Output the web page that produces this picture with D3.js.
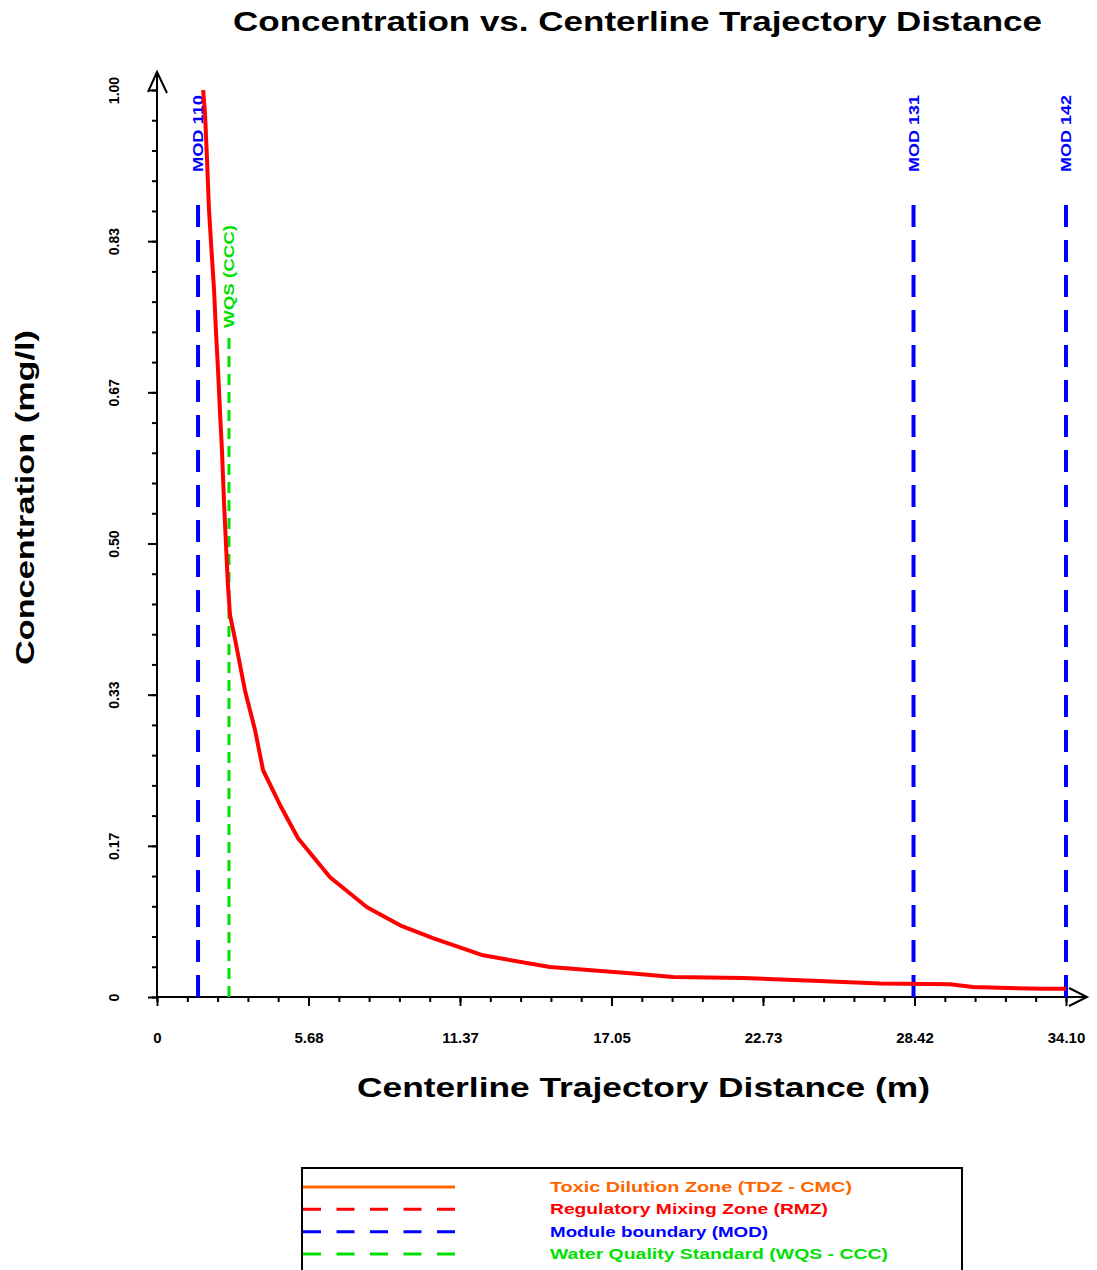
<!DOCTYPE html>
<html>
<head>
<meta charset="utf-8">
<script src="https://cdn.jsdelivr.net/npm/d3@7"></script>
<style>
  body { margin: 0; background: #fff; }
  text { font-family: "Liberation Sans", Arial, sans-serif; font-weight: bold; }
</style>
</head>
<body>
<script>
'use strict';

// concentration curve (distance m, concentration mg/l)
const distance = [1.73, 1.80, 1.88, 1.95, 2.06, 2.14, 2.21, 2.29, 2.36, 2.44, 2.51, 2.59, 2.66, 2.74,
  2.93, 3.30, 3.68, 3.98, 4.61, 5.29, 6.49, 7.88, 9.12, 10.35, 12.23, 14.74, 17.86, 19.36,
  21.98, 24.61, 27.12, 29.75, 30.61, 33.24, 34.10];
const concentration = [1.000, 0.975, 0.921, 0.868, 0.816, 0.780, 0.735, 0.691, 0.647, 0.601, 0.548, 0.498, 0.454, 0.421,
  0.394, 0.338, 0.294, 0.250, 0.212, 0.175, 0.132, 0.099, 0.079, 0.065, 0.046, 0.033, 0.026, 0.022,
  0.021, 0.018, 0.015, 0.014, 0.011, 0.009, 0.009];

// module boundaries and water quality standard
const modLabels = ["MOD 110", "MOD 131", "MOD 142"];
const modDistance = [1.54, 28.38, 34.10];
const wqsLabel = "WQS (CCC)";
const wqsDistance = [2.70];

// axis ticks
const xMax = 34.10;
const xTicks = d3.range(0, 7).map(i => i * xMax / 6);
const xMinorTicks = d3.range(0, 31).map(i => i * xMax / 30);
const yTicks = d3.range(0, 7).map(i => i / 6);
const yMinorTicks = d3.range(0, 31).map(i => i / 30);

// legend
const legendLabels = ["Toxic Dilution Zone (TDZ - CMC)", "Regulatory Mixing Zone (RMZ)",
  "Module boundary (MOD)", "Water Quality Standard (WQS - CCC)"];
const legendColors = ["#ff6600", "#ff0000", "#0000ff", "#00e000"];
const legendWidths = [302, 278, 218, 338];

const svg = d3.select("body").append("svg")
  .attr("width", 1097)
  .attr("height", 1270);

const x = d3.scaleLinear().domain([0, xMax]).range([157, 1066]);
const y = d3.scaleLinear().domain([0, 1]).range([997, 90]);

// title and axis labels
svg.append("text")
  .attr("x", 233).attr("y", 31)
  .attr("textLength", 809).attr("lengthAdjust", "spacingAndGlyphs")
  .style("font-size", "27px")
  .text("Concentration vs. Centerline Trajectory Distance");

svg.append("text")
  .attr("x", 357).attr("y", 1097)
  .attr("textLength", 573).attr("lengthAdjust", "spacingAndGlyphs")
  .style("font-size", "27px")
  .text("Centerline Trajectory Distance (m)");

svg.append("text")
  .attr("transform", "translate(34, 665) rotate(-90)")
  .attr("textLength", 335).attr("lengthAdjust", "spacingAndGlyphs")
  .style("font-size", "26px")
  .text("Concentration (mg/l)");

// minor ticks
svg.append("g")
  .attr("transform", "translate(0, 997)")
  .call(d3.axisBottom(x).tickValues(xMinorTicks).tickSize(5).tickFormat(""))
  .call(g => g.select(".domain").remove())
  .selectAll("line").attr("stroke-width", 2);

svg.append("g")
  .attr("transform", "translate(157, 0)")
  .call(d3.axisLeft(y).tickValues(yMinorTicks).tickSize(5).tickFormat(""))
  .call(g => g.select(".domain").remove())
  .selectAll("line").attr("stroke-width", 2);

// major ticks with labels
const fmt = d => d === 0 ? "0" : d.toFixed(2);

const xAxis = svg.append("g")
  .attr("transform", "translate(0, 997)")
  .call(d3.axisBottom(x).tickValues(xTicks).tickSize(9).tickPadding(26).tickFormat(fmt));
xAxis.select(".domain").remove();
xAxis.selectAll("line").attr("stroke-width", 2);
xAxis.selectAll("text")
  .attr("fill", "#000")
  .style("font-size", "15px")
  .style("font-family", "Liberation Sans, Arial, sans-serif");

const yAxis = svg.append("g")
  .attr("transform", "translate(157, 0)")
  .call(d3.axisLeft(y).tickValues(yTicks).tickSize(9).tickFormat(fmt));
yAxis.select(".domain").remove();
yAxis.selectAll("line").attr("stroke-width", 2);
yAxis.selectAll("text")
  .attr("x", 0).attr("y", 0).attr("dy", "0.35em")
  .attr("text-anchor", "middle")
  .attr("transform", "translate(-43, 0) rotate(-90)")
  .attr("fill", "#000")
  .style("font-size", "14px")
  .style("font-family", "Liberation Sans, Arial, sans-serif");

// axis lines with open arrow heads
svg.append("path")
  .attr("d", "M157,997 L157,72 M148,92 L157,72 L167,93")
  .attr("fill", "none").attr("stroke", "#000").attr("stroke-width", 2);
svg.append("path")
  .attr("d", "M157,997 L1087,997 M1069,988 L1087,997 L1069,1006")
  .attr("fill", "none").attr("stroke", "#000").attr("stroke-width", 2);

// module boundary lines
modDistance.forEach((d, i) => {
  svg.append("line")
    .attr("x1", x(d)).attr("x2", x(d))
    .attr("y1", 997).attr("y2", 198)
    .attr("stroke", "#0000ff").attr("stroke-width", 4)
    .attr("stroke-dasharray", "22,13");
  svg.append("text")
    .attr("transform", "translate(" + (x(d) + 5) + ", 172) rotate(-90)")
    .attr("textLength", 77).attr("lengthAdjust", "spacingAndGlyphs")
    .attr("fill", "#0000ff")
    .style("font-size", "14px")
    .text(modLabels[i]);
});

// water quality standard line
wqsDistance.forEach(d => {
  svg.append("line")
    .attr("x1", x(d)).attr("x2", x(d))
    .attr("y1", 997).attr("y2", 335)
    .attr("stroke", "#00e000").attr("stroke-width", 3)
    .attr("stroke-dasharray", "11,7");
  svg.append("text")
    .attr("transform", "translate(" + (x(d) + 5) + ", 328) rotate(-90)")
    .attr("textLength", 103).attr("lengthAdjust", "spacingAndGlyphs")
    .attr("fill", "#00e000")
    .style("font-size", "14px")
    .text(wqsLabel);
});

// concentration curve
const points = distance.map((d, i) => [d, concentration[i]]);
svg.append("path")
  .datum(points)
  .attr("fill", "none")
  .attr("stroke", "#ff0000")
  .attr("stroke-width", 4)
  .attr("stroke-linejoin", "round")
  .attr("d", d3.line().x(d => x(d[0])).y(d => y(d[1])));

// legend
svg.append("rect")
  .attr("x", 302).attr("y", 1168)
  .attr("width", 660).attr("height", 130)
  .attr("fill", "none").attr("stroke", "#000").attr("stroke-width", 2);

const legendY = d3.scalePoint().domain(legendLabels).range([1187, 1254]);
legendLabels.forEach((lab, i) => {
  svg.append("line")
    .attr("x1", 303).attr("x2", 455)
    .attr("y1", legendY(lab)).attr("y2", legendY(lab))
    .attr("stroke", legendColors[i]).attr("stroke-width", 3)
    .attr("stroke-dasharray", i === 0 ? null : "18,15.5");
  svg.append("text")
    .attr("x", 550).attr("y", legendY(lab)).attr("dy", "0.35em")
    .attr("textLength", legendWidths[i]).attr("lengthAdjust", "spacingAndGlyphs")
    .attr("fill", legendColors[i])
    .style("font-size", "14px")
    .text(lab);
});
</script>
</body>
</html>
